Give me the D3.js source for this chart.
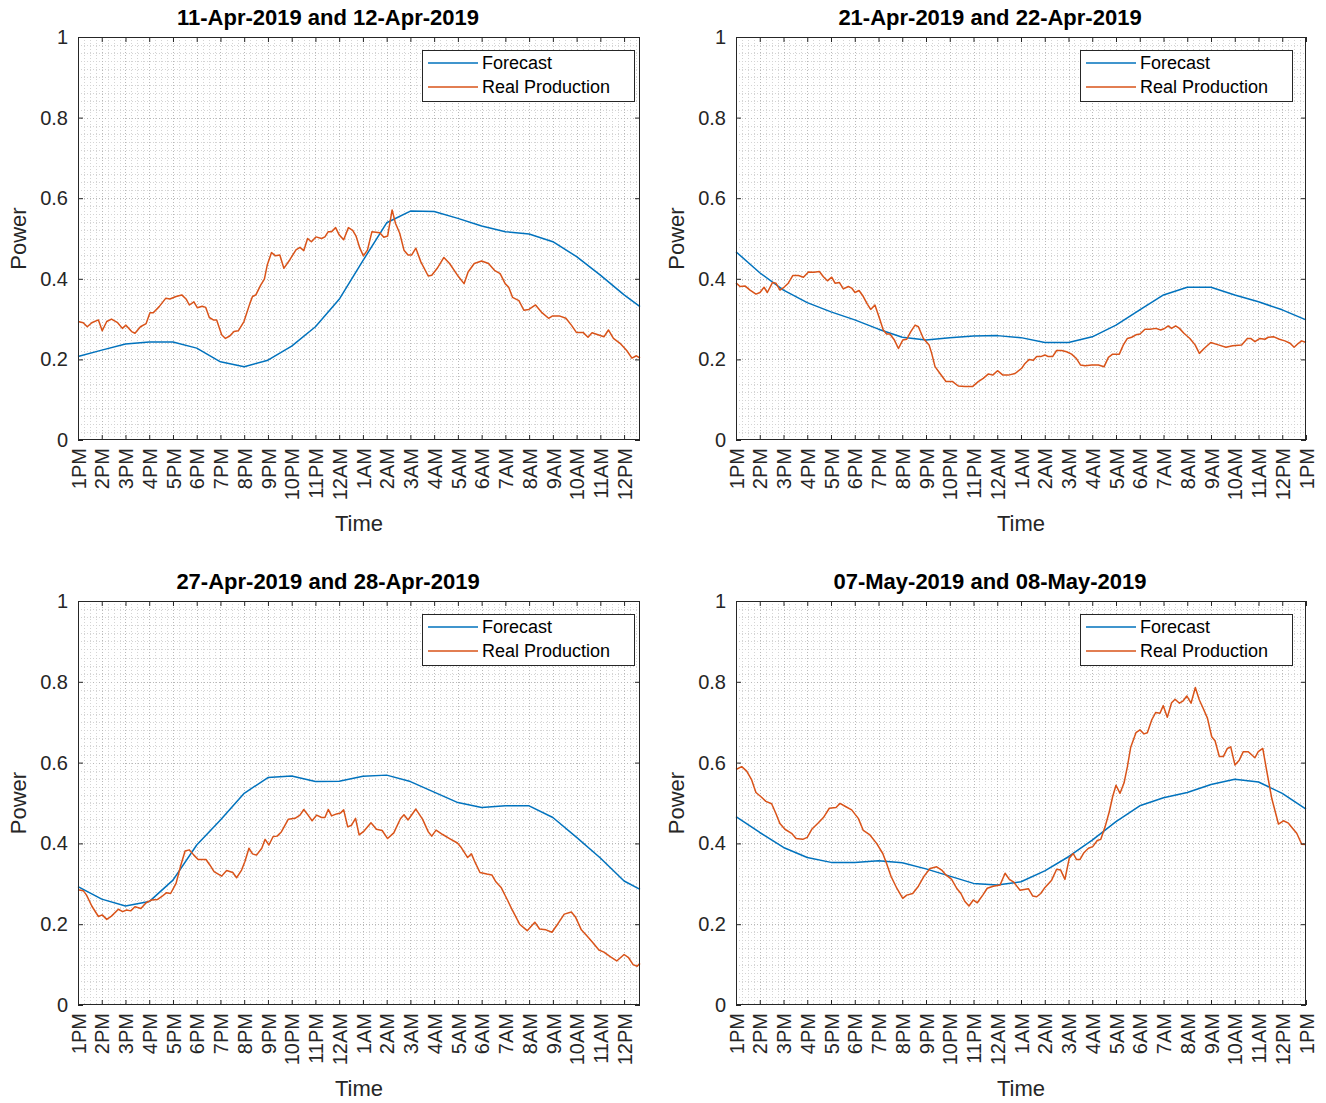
<!DOCTYPE html>
<html>
<head>
<meta charset="utf-8">
<script src="https://cdn.jsdelivr.net/npm/d3@7"></script>
<style>
  body { margin: 0; background: #fff; }
  text { font-family: "Liberation Sans", Arial, Helvetica, sans-serif; }
</style>
</head>
<body>
<div id="chart"></div>
<script>
const width = 1326;
const height = 1103;

// hour labels, index = hours after 1PM
const hourLabels = ["1PM","2PM","3PM","4PM","5PM","6PM","7PM","8PM","9PM","10PM","11PM","12AM",
  "1AM","2AM","3AM","4AM","5AM","6AM","7AM","8AM","9AM","10AM","11AM","12PM","1PM"];

const titles = ["11-Apr-2019 and 12-Apr-2019", "21-Apr-2019 and 22-Apr-2019",
  "27-Apr-2019 and 28-Apr-2019", "07-May-2019 and 08-May-2019"];

const seriesNames = ["Forecast", "Real Production"];

// [hours after 1PM, power]
const forecast1 = [[0,0.207],[1,0.223],[2,0.238],[3,0.243],[4,0.243],[5,0.228],[6,0.194],[7,0.182],
  [8,0.198],[9,0.233],[10,0.281],[11,0.349],[12,0.445],[13,0.539],[14,0.568],[15,0.567],[16,0.550],
  [17,0.531],[18,0.517],[19,0.511],[20,0.492],[21,0.455],[22,0.409],[23,0.360],[23.67,0.331]];

const real1 = [[0,0.294],[0.22,0.291],[0.39,0.281],[0.58,0.291],[0.86,0.298],[1.02,0.271],[1.21,0.294],
  [1.41,0.300],[1.67,0.291],[1.87,0.277],[2.02,0.285],[2.26,0.269],[2.40,0.265],[2.63,0.281],[2.87,0.289],
  [3.03,0.316],[3.17,0.316],[3.42,0.331],[3.70,0.352],[3.87,0.350],[4.13,0.356],[4.37,0.360],[4.55,0.350],
  [4.69,0.335],[4.88,0.343],[5.03,0.328],[5.23,0.332],[5.38,0.329],[5.53,0.304],[5.70,0.298],[5.84,0.298],
  [6.05,0.261],[6.21,0.252],[6.39,0.258],[6.57,0.269],[6.75,0.271],[6.99,0.294],[7.24,0.339],[7.35,0.356],
  [7.49,0.360],[7.70,0.385],[7.85,0.399],[7.97,0.434],[8.15,0.465],[8.32,0.457],[8.50,0.459],[8.67,0.426],
  [8.93,0.448],[9.18,0.472],[9.35,0.478],[9.51,0.470],[9.67,0.500],[9.83,0.492],[10.02,0.504],[10.26,0.500],
  [10.40,0.504],[10.54,0.517],[10.68,0.517],[10.85,0.527],[11.00,0.509],[11.19,0.497],[11.39,0.527],
  [11.57,0.520],[11.71,0.506],[11.87,0.476],[12.02,0.457],[12.19,0.471],[12.38,0.517],[12.71,0.514],
  [12.88,0.503],[13.04,0.506],[13.23,0.571],[13.37,0.538],[13.55,0.513],[13.73,0.471],[13.90,0.459],
  [14.05,0.459],[14.23,0.476],[14.44,0.442],[14.75,0.407],[14.90,0.409],[15.13,0.426],[15.41,0.453],
  [15.65,0.438],[15.98,0.409],[16.26,0.388],[16.43,0.417],[16.69,0.438],[17.00,0.444],[17.29,0.438],
  [17.54,0.421],[17.78,0.413],[17.99,0.388],[18.14,0.379],[18.30,0.354],[18.57,0.346],[18.78,0.322],
  [18.99,0.324],[19.27,0.335],[19.54,0.316],[19.82,0.302],[19.99,0.308],[20.27,0.308],[20.55,0.302],
  [20.78,0.285],[20.99,0.267],[21.27,0.267],[21.48,0.255],[21.65,0.266],[21.90,0.261],[22.15,0.256],
  [22.34,0.273],[22.55,0.252],[22.83,0.240],[23.11,0.222],[23.33,0.203],[23.52,0.209],[23.67,0.203]];

const forecast2 = [[0,0.467],[1,0.415],[2,0.372],[3,0.341],[4,0.318],[5,0.298],[6,0.275],[7,0.255],
  [8,0.248],[9,0.254],[10,0.258],[11,0.259],[12,0.254],[13,0.242],[14,0.242],[15,0.256],[16,0.285],
  [17,0.323],[18,0.360],[19,0.379],[20,0.379],[21,0.360],[22,0.343],[23,0.323],[24,0.298]];

const real2 = [[0,0.390],[0.17,0.381],[0.39,0.382],[0.59,0.372],[0.84,0.362],[1.01,0.366],[1.18,0.379],
  [1.32,0.366],[1.54,0.391],[1.68,0.389],[1.85,0.372],[2.02,0.379],[2.20,0.389],[2.39,0.408],[2.63,0.408],
  [2.84,0.404],[3.05,0.417],[3.28,0.416],[3.51,0.418],[3.68,0.405],[3.85,0.395],[4.03,0.404],[4.17,0.389],
  [4.35,0.391],[4.52,0.375],[4.73,0.381],[4.87,0.377],[5.01,0.366],[5.18,0.371],[5.36,0.356],[5.53,0.337],
  [5.67,0.324],[5.85,0.335],[6.04,0.302],[6.20,0.273],[6.34,0.263],[6.48,0.263],[6.67,0.248],[6.84,0.227],
  [7.02,0.248],[7.19,0.250],[7.36,0.269],[7.54,0.285],[7.68,0.281],[7.89,0.252],[8.13,0.236],[8.24,0.215],
  [8.38,0.182],[8.59,0.165],[8.84,0.145],[9.12,0.145],[9.36,0.134],[9.64,0.133],[9.97,0.133],[10.20,0.145],
  [10.41,0.153],[10.63,0.164],[10.81,0.161],[11.01,0.172],[11.24,0.161],[11.47,0.161],[11.75,0.165],
  [12.03,0.178],[12.17,0.190],[12.35,0.200],[12.52,0.198],[12.66,0.207],[12.83,0.207],[13.01,0.211],
  [13.15,0.207],[13.33,0.207],[13.50,0.222],[13.71,0.222],[13.92,0.219],[14.13,0.213],[14.32,0.203],
  [14.51,0.186],[14.70,0.184],[14.98,0.186],[15.26,0.186],[15.50,0.182],[15.68,0.205],[15.86,0.213],
  [16.14,0.213],[16.31,0.236],[16.48,0.252],[16.66,0.255],[16.84,0.261],[17.01,0.263],[17.22,0.275],
  [17.43,0.275],[17.68,0.277],[17.88,0.273],[18.02,0.276],[18.20,0.283],[18.34,0.277],[18.51,0.283],
  [18.67,0.277],[18.86,0.265],[19.11,0.252],[19.33,0.236],[19.51,0.215],[19.71,0.227],[19.99,0.242],
  [20.31,0.236],[20.63,0.230],[20.91,0.234],[21.29,0.236],[21.53,0.252],[21.67,0.252],[21.85,0.244],
  [22.06,0.252],[22.27,0.250],[22.41,0.255],[22.65,0.256],[22.88,0.250],[23.11,0.246],[23.33,0.240],
  [23.50,0.230],[23.68,0.240],[23.82,0.246],[24,0.242]];

const forecast3 = [[0,0.293],[1,0.262],[2,0.245],[3,0.256],[4,0.309],[5,0.396],[6,0.458],[7,0.524],
  [8,0.563],[9,0.567],[10,0.553],[11,0.554],[12,0.566],[13,0.569],[14,0.553],[15,0.527],[16,0.501],
  [17,0.489],[18,0.493],[19,0.493],[20,0.464],[21,0.415],[22,0.364],[23,0.307],[23.67,0.286]];

const real3 = [[0,0.285],[0.22,0.283],[0.36,0.272],[0.58,0.245],[0.86,0.219],[1.02,0.223],[1.21,0.212],
  [1.41,0.220],[1.70,0.237],[1.88,0.231],[2.05,0.235],[2.22,0.233],[2.40,0.243],[2.65,0.239],[2.87,0.253],
  [3.10,0.260],[3.34,0.261],[3.52,0.268],[3.73,0.278],[3.90,0.276],[4.13,0.301],[4.33,0.346],[4.51,0.381],
  [4.69,0.384],[4.88,0.371],[5.06,0.360],[5.39,0.360],[5.56,0.346],[5.73,0.330],[6.05,0.319],[6.26,0.333],
  [6.52,0.328],[6.68,0.315],[6.89,0.334],[7.03,0.355],[7.20,0.388],[7.35,0.374],[7.52,0.371],[7.74,0.388],
  [7.88,0.410],[8.04,0.396],[8.22,0.417],[8.39,0.418],[8.57,0.429],[8.86,0.460],[9.14,0.462],[9.35,0.470],
  [9.51,0.484],[9.69,0.470],[9.86,0.456],[10.05,0.470],[10.26,0.464],[10.40,0.464],[10.54,0.484],
  [10.68,0.468],[10.89,0.473],[11.05,0.475],[11.19,0.483],[11.36,0.441],[11.52,0.445],[11.69,0.462],
  [11.84,0.421],[12.02,0.429],[12.34,0.451],[12.57,0.435],[12.81,0.432],[13.04,0.412],[13.30,0.426],
  [13.58,0.461],[13.73,0.471],[13.90,0.458],[14.23,0.485],[14.51,0.460],[14.75,0.429],[14.90,0.418],
  [15.08,0.433],[15.36,0.422],[15.65,0.412],[15.98,0.401],[16.15,0.389],[16.41,0.365],[16.57,0.374],
  [16.74,0.351],[16.93,0.328],[17.22,0.324],[17.43,0.322],[17.60,0.305],[17.83,0.290],[18.06,0.263],
  [18.30,0.234],[18.60,0.200],[18.92,0.184],[19.24,0.205],[19.44,0.188],[19.71,0.186],[19.96,0.180],
  [20.20,0.200],[20.48,0.225],[20.78,0.230],[20.96,0.217],[21.20,0.186],[21.44,0.171],[21.66,0.156],
  [21.94,0.136],[22.15,0.131],[22.43,0.119],[22.69,0.109],[23.00,0.125],[23.19,0.117],[23.38,0.100],
  [23.55,0.096],[23.67,0.103]];

const forecast4 = [[0,0.466],[1,0.427],[2,0.390],[3,0.365],[4,0.353],[5,0.353],[6,0.357],[7,0.352],
  [8,0.337],[9,0.319],[10,0.301],[11,0.297],[12,0.305],[13,0.332],[14,0.367],[15,0.408],[16,0.454],
  [17,0.493],[18,0.513],[19,0.526],[20,0.546],[21,0.559],[22,0.552],[23,0.524],[24,0.485]];

const real4 = [[0,0.583],[0.24,0.590],[0.45,0.579],[0.66,0.557],[0.84,0.526],[1.04,0.516],[1.26,0.504],
  [1.50,0.498],[1.68,0.474],[1.85,0.449],[2.06,0.435],[2.34,0.425],[2.53,0.412],[2.81,0.410],[3.00,0.415],
  [3.19,0.435],[3.47,0.451],[3.68,0.464],[3.93,0.487],[4.21,0.489],[4.38,0.499],[4.59,0.492],[4.87,0.483],
  [5.15,0.462],[5.36,0.432],[5.64,0.421],[5.92,0.400],[6.18,0.375],[6.34,0.350],[6.53,0.318],[6.77,0.289],
  [7.02,0.264],[7.19,0.272],[7.44,0.276],[7.68,0.294],[7.92,0.319],[8.17,0.338],[8.45,0.342],[8.66,0.334],
  [8.84,0.322],[9.08,0.311],[9.29,0.289],[9.47,0.276],[9.64,0.256],[9.81,0.245],[9.99,0.260],[10.16,0.253],
  [10.39,0.272],[10.58,0.289],[10.83,0.294],[11.12,0.297],[11.33,0.326],[11.51,0.311],[11.68,0.305],
  [11.96,0.284],[12.31,0.288],[12.49,0.270],[12.66,0.268],[12.83,0.276],[13.01,0.291],[13.29,0.309],
  [13.50,0.336],[13.67,0.334],[13.85,0.311],[14.03,0.363],[14.20,0.375],[14.34,0.360],[14.48,0.360],
  [14.65,0.377],[14.84,0.388],[15.02,0.392],[15.21,0.407],[15.36,0.410],[15.54,0.441],[15.72,0.479],
  [15.86,0.516],[16.00,0.544],[16.17,0.524],[16.34,0.550],[16.48,0.590],[16.62,0.638],[16.84,0.674],
  [17.01,0.681],[17.18,0.671],[17.32,0.674],[17.50,0.705],[17.67,0.724],[17.85,0.722],[17.99,0.741],
  [18.16,0.712],[18.34,0.748],[18.49,0.757],[18.67,0.747],[18.83,0.753],[18.98,0.765],[19.16,0.747],
  [19.34,0.786],[19.51,0.755],[19.65,0.737],[19.85,0.710],[20.03,0.664],[20.17,0.654],[20.35,0.615],
  [20.52,0.615],[20.69,0.635],[20.83,0.639],[21.01,0.594],[21.19,0.606],[21.36,0.627],[21.57,0.627],
  [21.85,0.612],[21.99,0.627],[22.18,0.635],[22.35,0.578],[22.56,0.511],[22.84,0.448],[23.05,0.456],
  [23.26,0.450],[23.44,0.437],[23.61,0.425],[23.82,0.398],[24,0.397]];

const yTicks = [0, 0.2, 0.4, 0.6, 0.8, 1];

const colors = ["#0072BD", "#D95319"];
const axisColor = "#262626";

const panels = [
  { title: titles[0], forecast: forecast1, real: real1, end: 23.67, left: 78, right: 640, top: 37, bottom: 440, legendRight: 634 },
  { title: titles[1], forecast: forecast2, real: real2, end: 24, left: 736, right: 1306, top: 37, bottom: 440, legendRight: 1292 },
  { title: titles[2], forecast: forecast3, real: real3, end: 23.67, left: 78, right: 640, top: 601, bottom: 1005, legendRight: 634 },
  { title: titles[3], forecast: forecast4, real: real4, end: 24, left: 736, right: 1306, top: 601, bottom: 1005, legendRight: 1292 }
];

const svg = d3.select("#chart")
  .append("svg")
  .attr("width", width)
  .attr("height", height)
  .style("display", "block");

panels.forEach(drawPanel);

function drawPanel(p) {
  const x = d3.scaleLinear().domain([0, p.end]).range([p.left, p.right]);
  const y = d3.scaleLinear().domain([0, 1]).range([p.bottom, p.top]);
  const g = svg.append("g");

  // dotted grid (minor + major)
  const grid = g.append("g")
    .attr("stroke-width", 1)
    .attr("stroke-dasharray", "1,2")
    .attr("shape-rendering", "crispEdges");

  grid.selectAll("line.hy")
    .data(d3.range(1, 50).map(i => i / 50))
    .join("line")
    .attr("class", "hy")
    .attr("x1", p.left).attr("x2", p.right)
    .attr("y1", d => Math.round(y(d)) + 0.5).attr("y2", d => Math.round(y(d)) + 0.5)
    .attr("stroke", d => Math.abs(d * 5 - Math.round(d * 5)) < 1e-6 ? "#b8b8b8" : "#d4d4d4");

  grid.selectAll("line.vx")
    .data(d3.range(1, Math.floor(p.end * 4) + 1).map(i => i / 4).filter(d => d < p.end))
    .join("line")
    .attr("class", "vx")
    .attr("y1", p.top).attr("y2", p.bottom)
    .attr("x1", d => Math.round(x(d)) + 0.5).attr("x2", d => Math.round(x(d)) + 0.5)
    .attr("stroke", d => Number.isInteger(d) ? "#b8b8b8" : "#d4d4d4");

  // series
  const line = d3.line().x(d => x(d[0])).y(d => y(d[1]));
  g.append("path").datum(p.forecast)
    .attr("fill", "none").attr("stroke", colors[0]).attr("stroke-width", 1.5)
    .attr("stroke-linejoin", "round").attr("d", line);
  g.append("path").datum(p.real)
    .attr("fill", "none").attr("stroke", colors[1]).attr("stroke-width", 1.5)
    .attr("stroke-linejoin", "round").attr("d", line);

  const hourTicks = d3.range(0, Math.floor(p.end) + 1);

  // bottom axis with rotated labels
  const xAxis = g.append("g")
    .attr("transform", `translate(0,${p.bottom})`)
    .call(d3.axisBottom(x).tickValues(hourTicks).tickFormat(i => hourLabels[i]).tickSize(-5));
  xAxis.select(".domain").remove();
  xAxis.selectAll("line").attr("stroke", axisColor);
  xAxis.selectAll("text")
    .attr("transform", "rotate(-90)")
    .attr("text-anchor", "end")
    .attr("x", -8)
    .attr("y", 0)
    .attr("dy", "0.36em")
    .attr("fill", axisColor)
    .style("font-size", "20px");

  // top axis ticks only
  const xTop = g.append("g")
    .attr("transform", `translate(0,${p.top})`)
    .call(d3.axisTop(x).tickValues(hourTicks).tickFormat("").tickSize(-5));
  xTop.select(".domain").remove();
  xTop.selectAll("line").attr("stroke", axisColor);

  // left axis
  const yAxis = g.append("g")
    .attr("transform", `translate(${p.left},0)`)
    .call(d3.axisLeft(y).tickValues(yTicks).tickFormat(d3.format("~g")).tickSize(-5).tickPadding(10));
  yAxis.select(".domain").remove();
  yAxis.selectAll("line").attr("stroke", axisColor);
  yAxis.selectAll("text").attr("fill", axisColor).style("font-size", "20px");

  // right axis ticks only
  const yRight = g.append("g")
    .attr("transform", `translate(${p.right},0)`)
    .call(d3.axisRight(y).tickValues(yTicks).tickFormat("").tickSize(-5));
  yRight.select(".domain").remove();
  yRight.selectAll("line").attr("stroke", axisColor);

  // box
  g.append("rect")
    .attr("x", p.left + 0.5).attr("y", p.top + 0.5)
    .attr("width", p.right - p.left - 1).attr("height", p.bottom - p.top - 1)
    .attr("fill", "none").attr("stroke", axisColor).attr("stroke-width", 1);

  // title and axis labels
  g.append("text")
    .attr("x", (p.left + p.right) / 2 - 31)
    .attr("y", p.top - 12)
    .attr("text-anchor", "middle")
    .style("font-size", "22px").style("font-weight", "bold")
    .attr("fill", "#000")
    .text(p.title);

  g.append("text")
    .attr("x", (p.left + p.right) / 2)
    .attr("y", p.bottom + 91)
    .attr("text-anchor", "middle")
    .style("font-size", "22px")
    .attr("fill", axisColor)
    .text("Time");

  g.append("text")
    .attr("transform", `translate(${p.left - 52},${(p.top + p.bottom) / 2}) rotate(-90)`)
    .attr("text-anchor", "middle")
    .style("font-size", "22px")
    .attr("fill", axisColor)
    .text("Power");

  // legend
  const lw = 212, lh = 51;
  const lx = p.legendRight - lw, ly = p.top + 13;
  const legend = g.append("g");
  legend.append("rect")
    .attr("x", lx + 0.5).attr("y", ly + 0.5)
    .attr("width", lw).attr("height", lh)
    .attr("fill", "#fff").attr("stroke", axisColor).attr("stroke-width", 1);
  seriesNames.forEach((name, i) => {
    const yy = ly + 13 + i * 24;
    legend.append("line")
      .attr("x1", lx + 6).attr("x2", lx + 56)
      .attr("y1", yy).attr("y2", yy)
      .attr("stroke", colors[i]).attr("stroke-width", 1.5);
    legend.append("text")
      .attr("x", lx + 60).attr("y", yy)
      .attr("dy", "0.36em")
      .style("font-size", "18px")
      .attr("fill", "#000")
      .text(name);
  });
}
</script>
</body>
</html>
